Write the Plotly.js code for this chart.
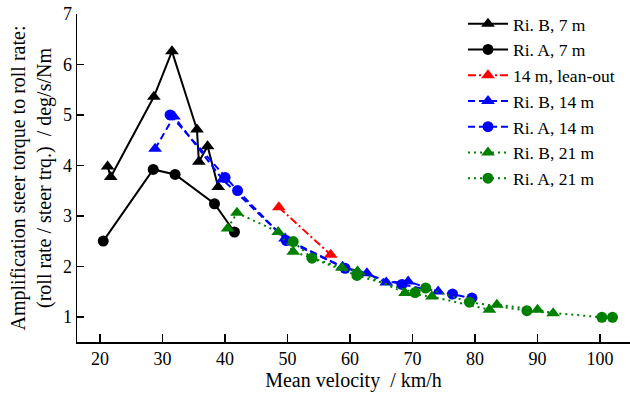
<!DOCTYPE html>
<html>
<head>
<meta charset="utf-8">
<script src="https://cdn.plot.ly/plotly-3.0.1.min.js"></script>
<style>html,body{margin:0;padding:0;background:#fff;}#chart{width:630px;height:398px;}</style>
</head>
<body>
<div id="chart"></div>
<script>
// Ri. B, 7 m
const riB7_x = [21.2, 21.7, 28.6, 31.5, 35.5, 35.8, 37.2, 38.9];
const riB7_y = [3.98, 3.77, 5.36, 6.26, 4.71, 4.07, 4.38, 3.57];
// Ri. A, 7 m
const riA7_x = [20.5, 28.5, 32.0, 38.3, 41.5];
const riA7_y = [2.50, 3.92, 3.82, 3.24, 2.68];
// 14 m, lean-out
const lean14_x = [48.6, 56.9];
const lean14_y = [3.17, 2.23];
// Ri. B, 14 m
const riB14_x = [28.8, 31.8, 39.6, 49.6, 58.8, 62.7, 65.8, 69.3, 74.1];
const riB14_y = [4.33, 4.97, 3.72, 2.55, 1.99, 1.86, 1.68, 1.70, 1.50];
// Ri. A, 14 m
const riA14_x = [31.2, 40.0, 42.0, 49.8, 59.2, 68.3, 76.4, 79.5];
const riA14_y = [5.00, 3.76, 3.50, 2.51, 1.96, 1.64, 1.45, 1.37];
// Ri. B, 21 m
const riB21_x = [40.4, 41.9, 48.5, 50.9, 58.7, 61.2, 68.8, 73.1, 82.3, 83.5, 90.0, 92.5];
const riB21_y = [2.75, 3.06, 2.68, 2.29, 1.97, 1.90, 1.47, 1.40, 1.14, 1.24, 1.14, 1.07];
// Ri. A, 21 m
const riA21_x = [50.9, 53.9, 61.1, 70.4, 72.1, 79.1, 88.3, 100.3, 102.0];
const riA21_y = [2.49, 2.16, 1.82, 1.48, 1.57, 1.29, 1.12, 0.99, 0.99];

const names = ['Ri. B, 7 m', 'Ri. A, 7 m', '14 m, lean-out', 'Ri. B, 14 m', 'Ri. A, 14 m', 'Ri. B, 21 m', 'Ri. A, 21 m'];

function tr(x, y, name, color, dash, symbol, size) {
  return {
    x: x, y: y, name: name, type: 'scatter', mode: 'lines+markers',
    line: {color: color, width: 2, dash: dash},
    marker: {color: color, symbol: symbol, size: size}
  };
}

const data = [
  tr(riB7_x, riB7_y, names[0], '#000000', 'solid', 'triangle-up', 12),
  tr(riA7_x, riA7_y, names[1], '#000000', 'solid', 'circle', 11),
  tr(lean14_x, lean14_y, names[2], '#ff0000', '8px,3px,2px,3px', 'triangle-up', 12),
  tr(riB14_x, riB14_y, names[3], '#0000ff', '7px,4px', 'triangle-up', 12),
  tr(riA14_x, riA14_y, names[4], '#0000ff', '7px,4px', 'circle', 11),
  tr(riB21_x, riB21_y, names[5], '#008000', '2px,4px', 'triangle-up', 12),
  tr(riA21_x, riA21_y, names[6], '#008000', '2px,4px', 'circle', 11)
];

const FONT = 'Liberation Serif, Times New Roman, serif';

const layout = {
  width: 630, height: 398,
  margin: {l: 77, r: 0, t: 14, b: 56},
  paper_bgcolor: '#fff', plot_bgcolor: '#fff',
  font: {family: FONT, size: 17, color: '#000'},
  showlegend: true,
  legend: {x: 0.698, y: 1.025, xanchor: 'left', yanchor: 'top', bgcolor: 'rgba(0,0,0,0)',
           font: {family: FONT, size: 17.5}, itemwidth: 40, tracegroupgap: 0},
  xaxis: {
    range: [16.3, 104.8], tickvals: [20, 30, 40, 50, 60, 70, 80, 90, 100],
    ticks: 'inside', ticklen: 8, tickwidth: 1.5, tickcolor: '#000',
    showline: true, linecolor: '#000', linewidth: 1.5, showgrid: false, zeroline: false,
    tickfont: {family: FONT, size: 18},
    title: {text: 'Mean velocity  / km/h', font: {family: FONT, size: 20}, standoff: 5}
  },
  yaxis: {
    range: [0.5, 7], tickvals: [1, 2, 3, 4, 5, 6, 7],
    ticks: 'inside', ticklen: 7, tickwidth: 1.5, tickcolor: '#000',
    showline: true, linecolor: '#000', linewidth: 1.5, showgrid: false, zeroline: false,
    tickfont: {family: FONT, size: 18},
    title: {text: 'Amplification steer torque to roll rate:<br>(roll rate / steer trq.)  / deg/s/Nm', font: {family: FONT, size: 20}, standoff: 6}
  }
};

Plotly.newPlot('chart', data, layout, {displayModeBar: false, staticPlot: true});
</script>
</body>
</html>
